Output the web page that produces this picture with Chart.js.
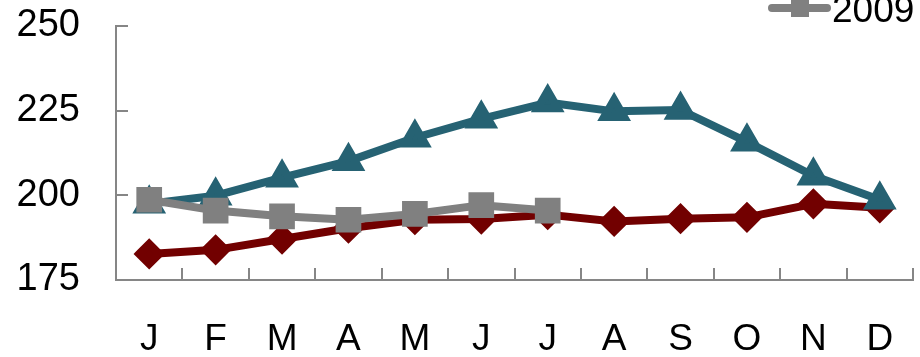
<!DOCTYPE html>
<html>
<head>
<meta charset="utf-8">
<script src="https://cdn.jsdelivr.net/npm/chart.js@4/dist/chart.umd.min.js"></script>
<style>
  html, body { margin: 0; padding: 0; background: #fff; overflow: hidden; }
  #wrap { width: 920px; height: 357px; position: relative; }
</style>
</head>
<body>
<div id="wrap"><canvas id="chart"></canvas></div>
<script>
// months and yearly series
const months = ['J', 'F', 'M', 'A', 'M', 'J', 'J', 'A', 'S', 'O', 'N', 'D'];
const values2007 = [182.7, 183.9, 187.1, 190.3, 192.8, 193.0, 194.3, 192.3, 193.1, 193.5, 197.5, 196.3];
const values2008 = [197.5, 199.9, 205.2, 210.1, 217.0, 222.6, 227.4, 224.8, 225.2, 215.8, 205.8, 198.7];
const values2009 = [198.7, 195.5, 193.8, 192.8, 194.5, 197.1, 195.5, null, null, null, null, null];
const yTicks = [175, 200, 225, 250];

const FONT = '"Liberation Sans", Arial, sans-serif';
const AXIS = '#868686';

// inward tick marks, like the spreadsheet original
const innerTicks = {
    id: 'innerTicks',
    afterDatasetsDraw(chart) {
        const ctx = chart.ctx;
        const x = chart.scales.x, y = chart.scales.y;
        const area = chart.chartArea;
        ctx.save();
        ctx.strokeStyle = AXIS;
        ctx.lineWidth = 2;
        ctx.beginPath();
        for (let i = 0; i <= months.length; i++) {
            const px = Math.round(x.getPixelForValue(i - 0.5));
            ctx.moveTo(px, area.bottom);
            ctx.lineTo(px, area.bottom - 12);
        }
        yTicks.forEach(v => {
            const py = Math.round(y.getPixelForValue(v));
            ctx.moveTo(area.left, py);
            ctx.lineTo(area.left + 12, py);
        });
        ctx.stroke();
        ctx.restore();
    }
};

// legend entry that runs off the top right edge
const cutLegend = {
    id: 'cutLegend',
    afterDraw(chart) {
        const ctx = chart.ctx;
        ctx.save();
        ctx.strokeStyle = '#808080';
        ctx.lineWidth = 8;
        ctx.lineCap = 'round';
        ctx.beginPath();
        ctx.moveTo(772, 8);
        ctx.lineTo(827, 8);
        ctx.stroke();
        ctx.fillStyle = '#808080';
        ctx.fillRect(791, -1, 18, 18);
        ctx.fillStyle = '#000';
        ctx.font = '37px ' + FONT;
        ctx.textBaseline = 'alphabetic';
        ctx.fillText('2009', 832, 22);
        ctx.restore();
    }
};

const lineStyle = {
    borderWidth: 8,
    borderJoinStyle: 'round',
    borderCapStyle: 'round',
    tension: 0,
    spanGaps: false,
    clip: false
};

new Chart(document.getElementById('chart'), {
    type: 'line',
    data: {
        labels: months,
        datasets: [{
            label: '2009',
            data: values2009,
            borderColor: '#808080',
            backgroundColor: '#808080',
            pointStyle: 'rect',
            pointRadius: 12.5,
            order: 1,
            ...lineStyle
        }, {
            label: '2008',
            data: values2008,
            borderColor: '#266273',
            backgroundColor: '#266273',
            pointStyle: 'triangle',
            pointRadius: 11.5,
            order: 2,
            ...lineStyle
        }, {
            label: '2007',
            data: values2007,
            borderColor: '#720000',
            backgroundColor: '#720000',
            pointStyle: 'rectRot',
            pointRadius: 10,
            order: 3,
            ...lineStyle
        }]
    },
    options: {
        responsive: true,
        maintainAspectRatio: false,
        animation: false,
        layout: { autoPadding: false, padding: { top: 26, right: 7, left: 0, bottom: 0 } },
        plugins: {
            legend: { display: false },
            tooltip: { enabled: false }
        },
        scales: {
            x: {
                offset: true,
                grid: { display: false, drawTicks: false },
                border: { display: true, color: AXIS, width: 2 },
                ticks: {
                    color: '#000',
                    padding: 38,
                    maxRotation: 0,
                    autoSkip: false,
                    font: { family: FONT, size: 37 }
                },
                afterFit(scale) {
                    scale.height = 77;
                    scale.paddingLeft = 0;
                    scale.paddingRight = 0;
                }
            },
            y: {
                min: 175,
                max: 250,
                grid: { display: false, drawTicks: false },
                border: { display: true, color: AXIS, width: 2 },
                ticks: {
                    stepSize: 25,
                    color: '#000',
                    padding: 36,
                    font: { family: FONT, size: 38 }
                },
                afterFit(scale) {
                    scale.width = 116;
                    scale.paddingTop = 0;
                    scale.paddingBottom = 0;
                }
            }
        }
    },
    plugins: [innerTicks, cutLegend]
});
</script>
</body>
</html>
